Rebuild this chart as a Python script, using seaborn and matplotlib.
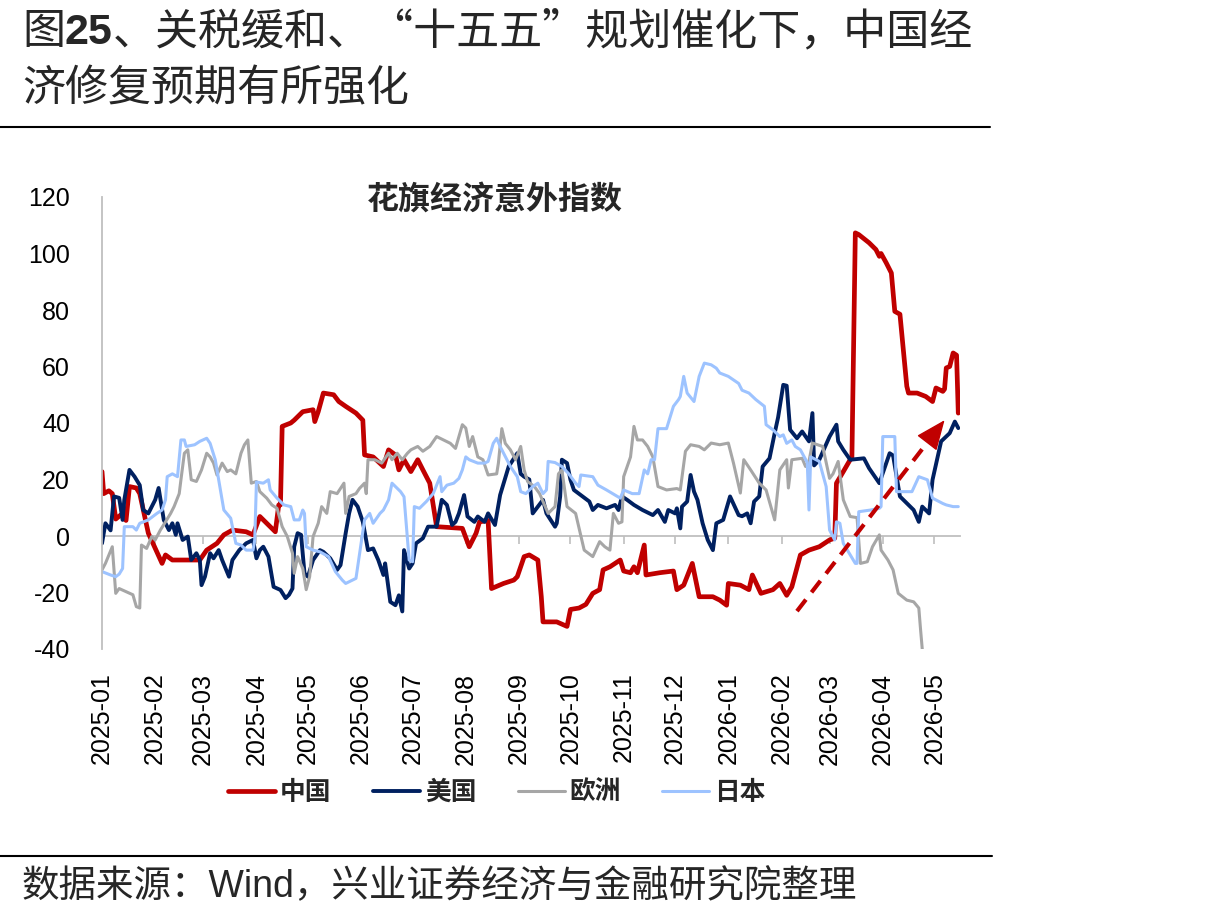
import matplotlib
matplotlib.use('Agg')
import matplotlib.pyplot as plt
import matplotlib.dates as mdates
from matplotlib.lines import Line2D
import pandas as pd
import seaborn as sns

sns.set_style('white')
plt.rcParams['font.family'] = ['Liberation Sans', 'Noto Sans CJK SC']
plt.rcParams['axes.unicode_minus'] = False

# 數據：以 2025-01-01 起算的天數
base = pd.Timestamp('2025-01-01')

cn_days = [0, 1, 4, 6, 8, 11, 14, 16, 20, 22, 27, 35, 37, 41, 57, 61, 67, 71, 76, 84, 88, 92, 98, 101,
           103, 104, 105, 110, 112, 117, 123, 124, 126, 129, 135, 138, 142, 148, 152, 153, 158, 164,
           167, 171, 173, 176, 180, 184, 187, 191, 195, 210, 214, 218, 220, 225, 227, 234, 240, 242,
           246, 249, 254, 256, 257, 265, 271, 273, 278, 282, 286, 290, 292, 296, 302, 304, 308, 310,
           312, 316, 317, 325, 333, 335, 339, 344, 348, 356, 360, 364, 365, 372, 377, 379, 384, 391,
           395, 399, 402, 407, 412, 418, 424, 427, 428, 432, 436, 437, 439, 441, 447, 451, 453, 454,
           457, 460, 462, 465, 469, 470, 475, 480, 484, 486, 490, 491, 492, 494, 496, 498, 499]
cn_vals = [22.8, 15, 16, 15, 6, 7.5, 5.5, 17.5, 17, 15, 1, -9.7, -6.7, -8.5, -8.5, -5, -2.6, 0.4, 2.1,
           1.5, 0.4, 6.9, 3.3, 1.5, 11, 11, 38.8, 40, 41, 44, 44.7, 40.5, 44, 50.6, 50, 47.6, 45.9,
           43.5, 41, 28.7, 28, 24.6, 30.5, 28.7, 23.4, 27, 22.8, 27, 23.4, 18.7, 3.3, 2.7, -3.8, 1, 5,
           5.5, -18.6, -16.8, -15.6, -14.4, -7.3, -6.7, -8.5, -21.5, -30.4, -30.4, -32, -26, -25.5,
           -24.2, -20.3, -19, -12, -10.9, -8.5, -12.4, -13, -10.9, -13, -3.2, -13.8, -13, -12.4, -19,
           -17.4, -9.7, -21.5, -21.5, -22.7, -24.5, -16.8, -17.4, -19, -13.8, -20.3, -19, -16.8, -21,
           -18, -6.7, -5, -3.8, -1.4, -0.8, 18.7, 22.8, 27, 27.5, 107.3, 106.7, 103.8, 101.4, 99, 100,
           96.7, 93.1, 79.5, 78.5, 53, 50.6, 50.6, 49.4, 47.6, 52.4, 51.2, 52, 59.5, 60, 64.8, 64, 43.5]

us_days = [0, 2, 5, 7, 10, 12, 13, 16, 19, 22,
           24, 27, 29, 31, 33, 36, 39, 41, 43, 44,
           47, 50, 52, 55, 57, 58, 60, 63, 65, 68,
           70, 74, 76, 80, 84, 88, 90, 92, 94, 97,
           100, 104, 107, 109, 111, 112, 114, 116, 118, 120,
           123, 127, 129, 133, 137, 139, 142, 144, 146, 149,
           152, 155, 158, 161, 164, 165, 168, 171, 173, 175,
           176, 179, 181, 183, 187, 190, 195, 198, 201, 204,
           206, 208, 211, 213, 217, 219, 223, 225, 229, 232,
           237, 242, 244, 246, 249, 251, 254, 257, 259, 264,
           265, 267, 268, 271, 273, 275, 280, 284, 286, 289,
           294, 299, 301, 303, 306, 310, 315, 321, 324, 328,
           330, 334, 335, 337, 338, 341, 343, 345, 347, 350,
           353, 356, 358, 362, 366, 371, 373, 376, 378, 380,
           383, 385, 389, 392, 394, 397, 399, 401, 405, 408,
           412, 414, 415, 418, 424, 428, 429, 432, 436, 444,
           447, 453, 459, 461, 465, 473, 476, 478, 482, 484,
           489, 494, 497, 499]
us_vals = [-2.6, 4.5, 2, 14, 13.5, 5.7, 12.8, 23.4, 21, 18,
           9.2, 8, 10.4, 12.8, 17, 5.7, 2.1, 4.5, 0.4, 4.5,
           -1.4, -0.2, -8.5, -6.1, -8.5, -17.4, -14.4, -6.1, -7.9, -5,
           -8.5, -14.4, -8.5, -5, -2.6, -1.4, -7.9, -5, -3.8, -7.3,
           -18, -19.1, -22, -20.8, -18.6, -3.8, 1, 0.4, -13.2, -14.4,
           -8.5, -5, -5.6, -7.9, -12, -10.3, 1, 8, 12.8, 10.4,
           5, -5, -4.4, -8.5, -13.8, -9.7, -23.3, -24.5, -21, -26.7,
           -5, -11.5, -9.7, -2.6, -0.8, 3.3, 3.3, 12.8, 11, 3.9,
           5, 8, 14.5, 6.9, 5, 6.9, 5, 8, 3.9, 14.5,
           24.6, 29.3, 22, 21, 20, 8, 10.4, 12.8, 8, 3.3,
           4.5, 14, 27, 25.8, 19.9, 16.3, 14, 12.2, 9.2, 11,
           9.8, 11, 9.2, 14, 12.8, 11, 9.2, 7.4, 9.2, 5,
           9.2, 8, 9.8, 2.7, 10.4, 12.2, 21.6, 15.7, 12.8, 4.5,
           -1.4, -5, 4.5, 5.7, 14, 7.4, 7, 8, 4.5, 12.2,
           14, 24.6, 27.5, 36.4, 42, 53.5, 53.2, 37.6, 34.6, 37,
           33.5, 43.5, 25, 27, 35.2, 39.4, 33.5, 30.5, 27, 27.5,
           24, 18.7, 29.3, 28.5, 14, 9.2, 5, 10.4, 8, 19.9,
           33.5, 36.4, 40.5, 38.2]

eu_days = [0, 2, 6, 8, 10, 14, 18, 20, 22, 23,
           26, 29, 31, 34, 37, 40, 42, 45, 46, 48,
           50, 52, 55, 58, 61, 63, 65, 67, 70, 73,
           75, 78, 81, 83, 85, 87, 90, 92, 96, 99,
           102, 105, 108, 111, 112, 114, 117, 119, 121, 123,
           126, 128, 131, 133, 137, 141, 142, 144, 148, 150,
           153, 154, 155, 159, 163, 167, 169, 172, 175, 178,
           180, 184, 187, 191, 195, 199, 203, 206, 210, 212,
           214, 216, 219, 222, 225, 230, 231, 233, 235, 238,
           241, 244, 246, 248, 252, 255, 260, 264, 266, 268,
           271, 276, 281, 286, 290, 293, 296, 298, 301, 303,
           304, 308, 310, 312, 315, 318, 321, 324, 329, 335,
           337, 340, 343, 348, 351, 355, 360, 365, 368, 372,
           374, 378, 383, 387, 392, 395, 399, 400, 402, 408,
           410, 412, 414, 420, 424, 426, 429, 432, 436, 440,
           442, 446, 449, 453, 454, 458, 461, 464, 469, 473,
           476, 477, 478, 479]
eu_vals = [-12, -9.7, -3.8, -20.3, -18.6, -19.7, -20.8, -25, -25.5, -3.2,
           -4.4, -0.2, -1.4, 2.1, 5, 8, 10.4, 15, 19.9, 29.3,
           30.5, 19.9, 19.3, 23.4, 29.3, 28, 25.8, 21.6, 25.8, 22.8,
           23.4, 22, 29.3, 32.3, 34, 18.7, 19.3, 15.7, 13.4, 11,
           9.8, 3.3, -0.2, -6.1, -13.2, -7.3, -11.5, -19, -14.4, -0.2,
           4.5, 10.4, 8, 15.7, 15, 18.7, 8, 14, 15, 16.8,
           18.7, 15, 27, 27, 25.8, 29.3, 27, 29.3, 27, 29.3,
           30.5, 31.7, 30, 31.7, 35.2, 34, 32.8, 31, 39.4, 38.2,
           31.7, 35.2, 28, 27, 21.6, 22, 25.8, 38, 32.8, 30.5,
           27, 31.7, 23.4, 19.3, 17.5, 15, 8, 10.4, 22, 23.4,
           10.4, 8, -5, -7.3, -2, -3.8, -5, 8, 4.5, 5,
           21, 28, 38.8, 34, 34, 31.7, 28, 17.5, 16.3, 16.8,
           16.3, 30, 32.3, 31.7, 30.5, 32.9, 32.3, 32.9, 25.8, 15.2,
           27, 23.4, 18.7, 16.3, 5.7, 23.4, 27, 17, 27, 27.5,
           24.6, 26.4, 32.9, 31.7, 20.4, 22, 26.4, 12.8, 6.9, 6.5,
           -9.7, -9.1, -3.8, 0.4, -5, -8.5, -12, -20.3, -22.7, -23.3,
           -25.5, -33, -40, -48]

jp_days = [0, 5, 8, 10, 12, 13, 18, 20, 22, 27,
           32, 35, 37, 38, 41, 44, 46, 48, 49, 54,
           57, 61, 63, 66, 68, 71, 75, 76, 78, 81,
           84, 88, 89, 90, 94, 97, 98, 102, 104, 106,
           110, 112, 115, 117, 118, 119, 123, 127, 132, 136,
           140, 142, 146, 148, 153, 156, 158, 162, 164, 167,
           169, 174, 176, 179, 181, 182, 185, 189, 193, 197,
           198, 201, 205, 208, 210, 212, 214, 219, 223, 225,
           228, 230, 232, 236, 238, 242, 244, 247, 251, 254,
           257, 259, 260, 264, 268, 272, 276, 278, 279, 286,
           289, 294, 299, 302, 304, 309, 313, 316, 318, 320,
           322, 324, 329, 333, 336, 337, 339, 341, 345, 348,
           351, 355, 358, 360, 365, 371, 373, 377, 381, 386,
           387, 391, 395, 397, 399, 402, 404, 407, 411, 412,
           413, 418, 422, 424, 427, 428, 430, 432, 439, 440,
           441, 448, 453, 454, 455, 462, 463, 472, 476, 481,
           484, 490, 492, 496, 499]
jp_vals = [-12.6, -13.8, -14.4, -13.5, -11.5, 3.3, 3.3, 2.1, 4.5, 5.7,
           8, 9.2, 12.8, 21, 22, 21, 34, 34, 31.7, 32.3,
           33.5, 34.6, 32.8, 27, 19.9, 9.2, 6.3, 3.3, -2.6, -3.2,
           -5, -5, -1.4, 19.1, 18.7, 19.9, 16.3, 13.4, 12.2, 11,
           10.4, 5.7, 5.7, 9.2, 8, -3.8, -5, -5.6, -7.3, -12.6,
           -15.6, -16.8, -15.6, -15, 5.7, 8, 4.5, 8, 9.2, 12.8,
           18.7, 15.7, 13.9, -8.5, -9.1, 10.4, 9.8, 12.2, 15, 21,
           15.7, 18, 18.7, 20.4, 23.4, 28, 27, 25.8, 25.8, 26.4,
           32.8, 34.6, 31.7, 27, 24.6, 21, 15.7, 15, 17.5, 18.7,
           15, 16.3, 26.4, 26, 24.6, 22, 18.7, 17.5, 21.6, 21,
           18, 16.3, 14.5, 13.4, 16.3, 15, 15, 23.4, 22, 27,
           27, 38, 38, 45.9, 48.3, 49.4, 56.5, 50.6, 47.6, 56.5,
           61.2, 60.6, 59.4, 57.7, 56.5, 54, 51.6, 50.6, 48.3, 45.9,
           39.4, 37.6, 35.2, 35.8, 32.8, 34, 31.7, 30.5, 26, 9.2,
           28, 26.4, 17.5, 2.1, -1.4, 5, 4.5, -2.6, -9.7, -9.7,
           8.6, 9.2, 9.8, 10.4, 35.2, 35.2, 15.7, 15.7, 21, 19.9,
           13.4, 11.5, 11, 10.4, 10.4]

names = ['中国', '美国', '欧洲', '日本']
all_days = [cn_days, us_days, eu_days, jp_days]
all_vals = [cn_vals, us_vals, eu_vals, jp_vals]
colors = ['#C00000', '#002060', '#A6A6A6', '#9DC3FF']
widths = [3.4, 2.8, 2.2, 2.2]

# 箭頭起訖（天數, 數值）
arrow_days = [405, 491]
arrow_vals = [-26.6, 41]

ymin, ymax = -40, 120
end_day = 500

W, H = 1205, 917
fig = plt.figure(figsize=(W / 100, H / 100), dpi=100)
ax = fig.add_axes([102 / W, 1 - 649 / H, 858 / W, 452 / H])

for name, d, v, c, lw in zip(names, all_days, all_vals, colors, widths):
    df = pd.DataFrame({'date': base + pd.to_timedelta(d, unit='D'), 'value': v})
    sns.lineplot(data=df, x='date', y='value', color=c, lw=lw, ax=ax, label=name,
                 estimator=None, legend=False)

ax.set_xlim(base, base + pd.Timedelta(days=end_day))
ax.set_ylim(ymin, ymax)
ax.set_xlabel('')
ax.set_ylabel('')

ax.set_yticks(range(ymin, ymax + 1, 20))
ax.tick_params(axis='y', direction='in', length=6, width=1.2, color='#BFBFBF',
               labelsize=18, pad=23, labelcolor='black')
ax.xaxis.set_major_locator(mdates.MonthLocator())
ax.xaxis.set_major_formatter(mdates.DateFormatter('%Y-%m'))
ax.tick_params(axis='x', length=0, labelsize=18, pad=17, labelrotation=90, labelcolor='black')

for s in ['top', 'right', 'bottom']:
    ax.spines[s].set_visible(False)
ax.spines['left'].set_color('#BFBFBF')
ax.spines['left'].set_linewidth(1.3)

# 零軸（含刻度）
zero_pos = (0 - ymin) / (ymax - ymin)
sec = ax.secondary_xaxis(zero_pos)
sec.xaxis.set_major_locator(mdates.MonthLocator())
sec.tick_params(axis='x', direction='out', length=6, width=1.2, color='#BFBFBF',
                labelbottom=False, labeltop=False)
for s in sec.spines.values():
    s.set_visible(False)
sec.spines['bottom'].set_visible(True)
sec.spines['bottom'].set_color('#BFBFBF')
sec.spines['bottom'].set_linewidth(1.3)

# 紅色虛線箭頭：虛線身 + 實心箭頭
a_dates = base + pd.to_timedelta(arrow_days, unit='D')
x0, x1 = mdates.date2num(a_dates[0]), mdates.date2num(a_dates[1])
y0, y1_ = arrow_vals
f_line, f_head = 0.95, 0.9
ax.plot([x0, x0 + f_line * (x1 - x0)], [y0, y0 + f_line * (y1_ - y0)], color='#C00000', lw=3,
        ls=(0, (3.5, 2.2)), solid_capstyle='butt', dash_capstyle='butt')
ax.annotate('', xy=(x1, y1_), xytext=(x0 + f_head * (x1 - x0), y0 + f_head * (y1_ - y0)),
            arrowprops=dict(arrowstyle='-|>,head_length=1.0,head_width=0.42', color='#C00000',
                            lw=1, mutation_scale=19, shrinkA=0, shrinkB=0))

# 圖例
handles = ax.get_lines()[:4]
fig.legend(handles, names, loc='center', bbox_to_anchor=(497 / W, 1 - 793 / H), ncol=4,
           frameon=False, prop=dict(family=['Liberation Sans', 'Noto Sans CJK SC'],
                                    weight='bold', size=18.5),
           handlelength=1.83, handletextpad=0.2, columnspacing=1.6)

fig.text(495 / W, 1 - 201 / H, '花旗经济意外指数', ha='center', va='center', fontsize=23,
         weight='bold', family=['Noto Sans CJK SC'])

# 標題（25 為粗體）
cjk = ['Noto Sans CJK SC', 'DejaVu Sans']
fig.canvas.draw()
r = fig.canvas.get_renderer()
ty = 1 - 44 / H
t1 = fig.text(22 / W, ty, '图', fontsize=31, family=cjk, va='baseline')
tx = t1.get_window_extent(r).x1
t2 = fig.text(tx / W, ty, '25', fontsize=31, weight='bold', family=['Liberation Sans'], va='baseline')
tx = t2.get_window_extent(r).x1
fig.text(tx / W, ty, '、关税缓和、“十五五”规划催化下，中国经', fontsize=31, family=cjk, va='baseline')
fig.text(22 / W, 1 - 101 / H, '济修复预期有所强化', fontsize=31, family=cjk, va='baseline')

fig.add_artist(Line2D([0, 990 / W], [1 - 127 / H] * 2, color='black', lw=1.5))
fig.add_artist(Line2D([0, 992 / W], [1 - 856 / H] * 2, color='black', lw=1.5))

fig.text(22 / W, 1 - 897 / H, '数据来源：Wind，兴业证券经济与金融研究院整理', fontsize=27,
         family=['Liberation Sans', 'Noto Sans CJK SC'], va='baseline')

fig.savefig('out.png', dpi=100)
